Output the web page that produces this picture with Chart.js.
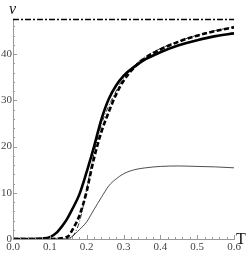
<!DOCTYPE html>
<html>
<head>
<meta charset="utf-8">
<script src="https://cdn.jsdelivr.net/npm/chart.js@4"></script>
<style>
html,body{margin:0;padding:0;background:#fff;}
#wrap{width:249px;height:253px;position:relative;}
</style>
</head>
<body>
<div id="wrap"><canvas id="c" width="249" height="253"></canvas></div>
<script>
// Temperature samples
const T = [0, 0.05, 0.08, 0.1, 0.12, 0.14, 0.15, 0.16, 0.18, 0.2, 0.21, 0.22, 0.23, 0.24, 0.26, 0.28, 0.3, 0.33, 0.36, 0.4, 0.45, 0.5, 0.55, 0.6];
// thick solid
const nuSolid = [0, 0, 0.1, 0.4, 1.5, 3.5, 4.8, 6.3, 9.6, 14.5, 17.2, 20.0, 23.0, 25.9, 30.3, 33.2, 35.3, 37.3, 38.9, 40.4, 41.9, 43.0, 43.9, 44.5];
// thick dashed
const nuDashed = [0, 0, 0, 0, 0.05, 0.3, 0.6, 1.8, 5.0, 10.3, 14.0, 17.5, 20.5, 23.2, 27.5, 31.3, 34.2, 37.2, 39.2, 41.0, 42.7, 44.0, 45.0, 45.8];
// thin dash-dot
const nuDashDot = [0, 0, 0, 0, 0, 0, 0.1, 0.4, 3.6, 10.8, 14.8, 18.6, 21.9, 24.8, 28.8, 32.0, 34.8, 37.6, 39.5, 41.2, 42.8, 44.1, 45.1, 45.9];
// thin solid
const nuThin = [0, 0, 0, 0, 0, 0, 0.1, 0.5, 2.0, 3.7, 5.0, 6.4, 7.7, 9.0, 11.5, 13.0, 14.1, 15.0, 15.4, 15.7, 15.8, 15.7, 15.6, 15.4];
// asymptote
const nuLimit = 47.5;
const xTicks = [0, 0.1, 0.2, 0.3, 0.4, 0.5, 0.6];
const yTicks = [0, 10, 20, 30, 40];

const pts = arr => T.map((t, i) => ({x: t, y: arr[i]}));
const SERIF = "'Liberation Serif', 'Times New Roman', serif";

const decor = {
  id: 'decor',
  afterDraw(chart) {
    const ctx = chart.ctx;
    const xs = chart.scales.x, ys = chart.scales.y;
    const x0 = xs.getPixelForValue(0), y0 = ys.getPixelForValue(0);
    ctx.save();
    ctx.strokeStyle = '#999';
    ctx.lineWidth = 1;
    ctx.beginPath();
    for (let i = 0; i <= 30; i++) {
      const v = i * 0.02;
      const px = Math.round(xs.getPixelForValue(v)) + 0.5;
      const len = (i % 5 === 0) ? 4 : 2;
      ctx.moveTo(px, y0); ctx.lineTo(px, y0 - len);
    }
    for (let i = 0; i <= 23; i++) {
      const v = i * 2;
      const py = Math.round(ys.getPixelForValue(v)) + 0.5;
      const len = (i % 5 === 0) ? 4 : 2;
      ctx.moveTo(x0, py); ctx.lineTo(x0 + len, py);
    }
    ctx.stroke();
    ctx.fillStyle = '#111';
    ctx.font = 'italic 16px ' + SERIF;
    ctx.textAlign = 'left';
    ctx.textBaseline = 'alphabetic';
    ctx.fillText('ν', 9, 14);
    ctx.font = '16px ' + SERIF;
    ctx.fillText('T', 236, 244);
    ctx.restore();
  }
};

new Chart(document.getElementById('c'), {
  type: 'line',
  data: {
    datasets: [
      {data: [{x: 0, y: nuLimit}, {x: 0.6, y: nuLimit}], borderColor: '#000', borderWidth: 1.4, borderDash: [6, 2, 2, 2], pointRadius: 0, clip: false},
      {data: pts(nuThin), borderColor: '#222', borderWidth: 0.8, pointRadius: 0, cubicInterpolationMode: 'monotone'},
      {data: pts(nuDashDot), borderColor: '#000', borderWidth: 0.8, borderDash: [5, 2, 1, 2], pointRadius: 0, cubicInterpolationMode: 'monotone'},
      {data: pts(nuDashed), borderColor: '#000', borderWidth: 2.6, borderDash: [5, 2.5], pointRadius: 0, cubicInterpolationMode: 'monotone'},
      {data: pts(nuSolid), borderColor: '#000', borderWidth: 2.6, pointRadius: 0, cubicInterpolationMode: 'monotone'}
    ]
  },
  options: {
    responsive: false,
    animation: false,
    layout: {padding: {left: 0, right: 15, top: 19, bottom: 0}},
    plugins: {legend: {display: false}, tooltip: {enabled: false}},
    scales: {
      x: {
        type: 'linear', min: 0, max: 0.6,
        afterBuildTicks: s => { s.ticks = xTicks.map(v => ({value: v})); },
        afterFit: s => { s.height = 14; },
        grid: {display: false, drawTicks: false},
        border: {display: true, color: '#999', width: 1},
        ticks: {padding: 2, color: '#444', font: {family: SERIF, size: 11}, callback: v => v.toFixed(1), maxRotation: 0}
      },
      y: {
        type: 'linear', min: 0, max: 47.6,
        afterBuildTicks: s => { s.ticks = yTicks.map(v => ({value: v})); },
        afterFit: s => { s.width = 13; },
        grid: {display: false, drawTicks: false},
        border: {display: true, color: '#999', width: 1},
        ticks: {padding: 1, color: '#444', font: {family: SERIF, size: 11}}
      }
    }
  },
  plugins: [decor]
});
</script>
</body>
</html>
